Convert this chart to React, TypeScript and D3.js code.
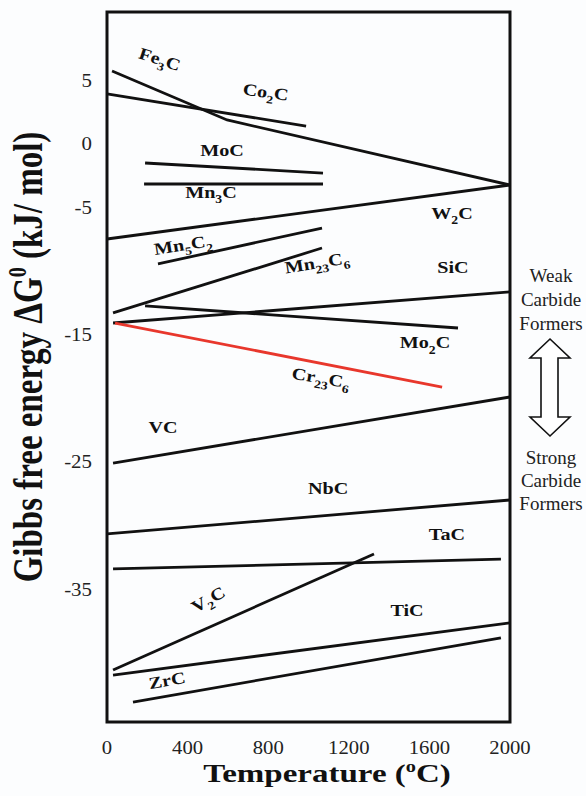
import React from 'react';
import { scaleLinear, line } from 'd3';

// carbide formation lines: temperature (°C) and Gibbs free energy (kJ/mol) per point
const CARBIDES = ['Fe3C', 'Co2C', 'MoC', 'Mn3C', 'W2C', 'Mn5C2', 'Mn23C6', 'SiC', 'Mo2C', 'Cr23C6', 'VC', 'NbC', 'TaC', 'V2C', 'TiC', 'ZrC'];
const TEMPS = [
  [25, 596, 2000],
  [0, 988],
  [189, 1072],
  [184, 1072],
  [0, 2000],
  [253, 1067],
  [30, 1067],
  [30, 2000],
  [189, 1742],
  [40, 1663],
  [30, 2000],
  [0, 2000],
  [30, 1955],
  [30, 1325],
  [30, 2000],
  [129, 1955],
];
const GIBBS = [
  [5.69, 1.85, -3.26],
  [3.89, 1.37],
  [-1.53, -2.32],
  [-3.18, -3.18],
  [-7.5, -3.26],
  [-9.46, -6.64],
  [-13.31, -8.21],
  [-14.1, -11.66],
  [-12.76, -14.49],
  [-14.1, -19.13],
  [-25.1, -19.91],
  [-30.67, -28.0],
  [-33.42, -32.64],
  [-41.36, -32.24],
  [-41.75, -37.66],
  [-43.87, -38.84],
];
const X_TICKS = [0, 400, 800, 1200, 1600, 2000];
const Y_TICKS = [5, 0, -5, -15, -25, -35];

// where each formula label sits (data units) and its tilt
const LABEL_POS: Record<string, [number, number, number]> = {
  Fe3C: [253, 6.2, 18],
  Co2C: [784, 3.6, 8],
  MoC: [571, -0.95, 0],
  Mn3C: [516, -4.3, 0],
  Mn5C2: [382, -8.4, -9],
  Mn23C6: [1047, -9.8, -9],
  W2C: [1712, -5.9, 0],
  SiC: [1717, -10.2, 0],
  Mo2C: [1578, -16.1, 0],
  Cr23C6: [1057, -18.85, 10],
  VC: [278, -22.74, 0],
  NbC: [1097, -27.53, 0],
  TaC: [1687, -31.14, 0],
  V2C: [516, -36.2, -30],
  TiC: [1489, -37.11, 0],
  ZrC: [303, -42.61, -10],
};

const W = 586;
const H = 796;
const serif = '"Liberation Serif", "Times New Roman", serif';

const Formula: React.FC<{ text: string; size: number }> = ({ text, size }) => {
  const parts = text.split(/(\d+)/).filter(Boolean);
  const shift = size * 0.3;
  let down = false;
  return (
    <>
      {parts.map((p, i) => {
        const isNum = /^\d+$/.test(p);
        let dy = 0;
        if (isNum && !down) { dy = shift; down = true; }
        else if (!isNum && down) { dy = -shift; down = false; }
        return (
          <tspan key={i} dy={dy} fontSize={isNum ? size * 0.68 : size}>{p}</tspan>
        );
      })}
    </>
  );
};

const App: React.FC = () => {
  const x = scaleLinear().domain([0, 2000]).range([107, 510]);
  const y = scaleLinear().domain([-45.44, 10.33]).range([722, 12]);

  const path = line<[number, number]>()
    .x(d => x(d[0]))
    .y(d => y(d[1]));

  const labelSize = 16.8;

  return (
    <svg width={W} height={H} style={{ position: 'absolute', left: 0, top: 0, display: 'block' }}>
      <rect width={W} height={H} fill="#fcfdfe" />

      {/* carbide lines */}
      {CARBIDES.map((name, i) => {
        const pts = TEMPS[i].map((t, j) => [t, GIBBS[i][j]] as [number, number]);
        return (
          <path key={name} d={path(pts) || ''} fill="none"
            stroke={name === 'Cr23C6' ? '#e8372c' : '#111'} strokeWidth={2.8} />
        );
      })}

      {/* frame */}
      <rect x={x(0)} y={y(10.33)} width={x(2000) - x(0)} height={y(-45.44) - y(10.33)}
        fill="none" stroke="#111" strokeWidth={3} />

      {/* formula labels */}
      {CARBIDES.map(name => {
        const [t, g, rot] = LABEL_POS[name];
        return (
          <text key={name} transform={`translate(${x(t)},${y(g)}) rotate(${rot}) scale(1.2,1)`}
            textAnchor="middle" dy="0.35em" fontFamily={serif} fontWeight="bold" fontSize={labelSize} fill="#111">
            <Formula text={name} size={labelSize} />
          </text>
        );
      })}

      {/* x tick labels */}
      {X_TICKS.map(t => (
        <text key={t} transform={`translate(${x(t)},754) scale(1.12,1)`} textAnchor="middle"
          fontFamily={serif} fontSize={18.5} fill="#222">{t}</text>
      ))}

      {/* y tick labels */}
      {Y_TICKS.map(v => (
        <text key={v} transform={`translate(92,${y(v)}) scale(1.1,1)`} textAnchor="end" dy="0.35em"
          fontFamily={serif} fontSize={19} fill="#222">{v}</text>
      ))}

      {/* axis titles */}
      <text transform="translate(327,782) scale(1.27,1)" textAnchor="middle" fontFamily={serif}
        fontWeight="bold" fontSize={26} fill="#111">
        Temperature (<tspan fontSize={16} dy={-10}>o</tspan><tspan dy={10}>C)</tspan>
      </text>
      <text transform="translate(42,357) rotate(-90) scale(1,1.25)" textAnchor="middle" fontFamily={serif}
        fontWeight="bold" fontSize={33} fill="#111">
        Gibbs free energy ΔG<tspan fontSize={20} dy={-13}>0</tspan><tspan dy={13}> (kJ/ mol)</tspan>
      </text>

      {/* weak / strong annotation */}
      <g fontFamily={serif} fontSize={19} fill="#222" textAnchor="middle">
        <text x={551} y={282}>Weak</text>
        <text x={551} y={306}>Carbide</text>
        <text x={551} y={330}>Formers</text>
        <text x={551} y={464}>Strong</text>
        <text x={551} y={487}>Carbide</text>
        <text x={551} y={510}>Formers</text>
      </g>
      <path d="M550,339 L570,358 L558,358 L558,417 L570,417 L550,436 L530,417 L541,417 L541,358 L530,358 Z"
        fill="#fff" stroke="#111" strokeWidth={1.6} strokeLinejoin="miter" />
    </svg>
  );
};

export default App;
